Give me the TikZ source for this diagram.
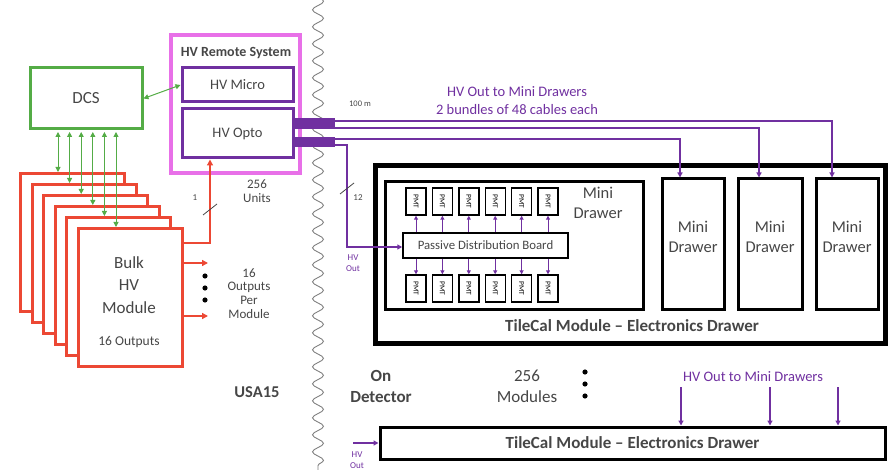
\documentclass[tikz,border=0pt]{standalone}
\usepackage{fontspec}
\setmainfont{Carlito}
\usetikzlibrary{arrows.meta,positioning,decorations.pathmorphing}

\definecolor{dcsgreen}{RGB}{84,172,70}
\definecolor{bulkred}{RGB}{236,72,52}
\definecolor{remotepink}{RGB}{232,112,232}
\definecolor{hvpurple}{RGB}{112,48,160}
\definecolor{txtgray}{RGB}{70,70,70}

\newcommand{\fs}[1]{\fontsize{#1}{1.22\dimexpr#1pt\relax}\selectfont}

\begin{document}
\begin{tikzpicture}[
        x=1pt, y=-1pt,
        every node/.style={inner sep=0pt, text=txtgray},
        dcsbox/.style={rectangle, draw=dcsgreen, line width=3pt, minimum width=112pt,
                       minimum height=61pt, font=\fs{17}},
        remote/.style={rectangle, draw=remotepink, line width=3.5pt, minimum width=129pt,
                       minimum height=138pt},
        hvbox/.style={rectangle, draw=hvpurple, line width=3pt, minimum width=111pt, font=\fs{14.5}},
        bulk/.style={rectangle, draw=bulkred, fill=white, line width=3pt, minimum width=104pt,
                     minimum height=138pt},
        drawerbox/.style={rectangle, draw=black, line width=3pt},
        minidrawer/.style={drawerbox, minimum width=62pt, minimum height=131pt,
                           label={[align=center, font=\fs{16.5}, text=txtgray, yshift=7.5pt]center:{Mini\\Drawer}}},
        pmt/.style={rectangle, draw=black, line width=1.4pt, minimum width=20pt, minimum height=27pt,
                    font=\fs{7.5}, text=black},
        lbl/.style={align=center, font=\fs{13}},
        big/.style={align=center, font=\fs{17}},
        bigbold/.style={align=center, font=\fs{17}\bfseries},
        small/.style={font=\fs{9}},
        hvtext/.style={text=hvpurple, align=center, font=\fontsize{14.5}{18}\selectfont},
        garrow/.style={<->, >={Triangle[length=5pt,width=5pt]}, draw=dcsgreen, line width=1pt},
        rarrow/.style={->, >={Triangle[length=6pt,width=6pt]}, draw=bulkred, line width=1.3pt},
        hvline/.style={->, >={Triangle[length=5pt,width=5pt]}, draw=hvpurple, line width=1.6pt},
        pmtarrow/.style={->, >={Triangle[length=4pt,width=4pt]}, draw=hvpurple, line width=1pt},
        bundle/.style={draw=hvpurple, line width=10pt},
        slash/.style={draw=txtgray, line width=0.8pt}
    ]
        \useasboundingbox (0,0) rectangle (889,470);

        \draw[gray, line width=0.9pt, decorate, decoration={snake, segment length=17pt, amplitude=5.5pt}]
            (318,-4) -- (318,474);

        \node[dcsbox] (dcs) at (86,98.5) {DCS};
        \node[remote] (remote) at (235.5,104) {};
        \node[font=\fs{14}\bfseries] (remotetitle) at (236,53) {HV Remote System};
        \node[hvbox, minimum height=34pt] (micro) at (237.5,85) {HV Micro};
        \node[hvbox, minimum height=49pt] (opto) at (237.5,133.5) {HV Opto};
        \draw[garrow] (dcs.east) -- (micro.west);

        \foreach \i in {0,...,5}
            \node[bulk, anchor=north west] (bulk\i) at ({19+11.6*\i},{172+11*\i}) {};
        \foreach \i in {0,...,5} {
            \coordinate (g\i) at ([xshift=39pt]bulk\i.north west);
            \draw[garrow, shorten <=1.5pt] (g\i |- dcs.south) -- (g\i);
        }
        \node[big] (bulktxt) at (129,285) {Bulk\\[1.5pt]HV\\[1.5pt]Module};
        \node[font=\fs{13.5}] (bulkouts) at (129,342) {16 Outputs};

        \coordinate (out1) at (208,263);
        \coordinate (out16) at (208,316);
        \draw[rarrow] (bulk5.east |- out1) -- (out1);
        \draw[rarrow] (bulk5.east |- out16) -- (out16);
        \foreach \y in {276,288,300}
            \fill (205,\y) circle (2.6pt);
        \node[lbl] (outlbl) at (249,293.5) {16\\[-2pt]Outputs\\[-2pt]Per\\[-2pt]Module};

        \coordinate (bend) at (210,243);
        \draw[rarrow] (bulk5.east |- bend) -- (bend) -- (bend |- opto.south);
        \draw[slash] (203,215) -- (217,204);
        \node[small] (one) at (195,198) {1};
        \node[lbl] (units) at (257,191) {256\\[-2pt]Units};
        \node[bigbold, font=\fs{16.5}\bfseries] (usa) at (257,392) {USA15};

        \node[drawerbox, line width=5pt, minimum width=510pt, minimum height=178pt] (tilecal) at (630,255) {};
        \node[drawerbox, minimum width=258pt, minimum height=128pt] (md1) at (514,246) {};
        \node[align=center, font=\fs{16.5}] (md1lbl) at (598,203) {Mini\\Drawer};
        \node[drawerbox, line width=1.5pt, minimum width=165pt, minimum height=25pt, font=\fs{12.8}]
            (pdb) at (485.5,245.5) {Passive Distribution Board};
        \foreach \k in {1,...,6} {
            \node[pmt] (pmtT\k) at ({416+26.4*(\k-1)},201.5) {\rotatebox{-90}{PMT}};
            \node[pmt] (pmtB\k) at ({416+26.4*(\k-1)},288.5) {\rotatebox{-90}{PMT}};
            \draw[pmtarrow] (pdb.north -| pmtT\k.south) -- (pmtT\k.south);
            \draw[pmtarrow] (pdb.south -| pmtB\k.north) -- (pmtB\k.north);
        }
        \node[minidrawer] (md2) at (693,244.5) {};
        \node[minidrawer, minimum width=64pt] (md3) at (770,244.5) {};
        \node[minidrawer] (md4) at (847,244.5) {};
        \node[bigbold] (tclbl) at (632,326) {TileCal Module -- Electronics Drawer};

        \draw[hvline] (opto.east |- 0,121) -| ([xshift=-15pt]md4.north);
        \draw[hvline] (opto.east |- 0,128) -| ([xshift=-11pt]md3.north);
        \draw[hvline] (opto.east |- 0,139) -| ([xshift=-13pt]md2.north);
        \coordinate (drop) at (347,145);
        \draw[hvline] (opto.east |- drop) -- (drop) -- (drop |- 0,247) -- (pdb.west |- 0,247);
        \coordinate (bundleA) at (335,123);
        \coordinate (bundleB) at (335,142);
        \draw[bundle] (opto.east |- bundleA) -- (bundleA);
        \draw[bundle] (opto.east |- bundleB) -- (bundleB);
        \draw[slash] (340,194) -- (354,183);
        \node[small] (twelve) at (358,198) {12};
        \node[small, text=hvpurple, align=center] (hvout1) at (353,263) {HV\\Out};
        \node[small, font=\fs{8.5}] (dist) at (360,104) {100 m};
        \node[hvtext] (bundlelbl) at (517,101) {HV Out to Mini Drawers\\2 bundles of 48 cables each};

        \node[bigbold] (onlbl) at (381,386.5) {On\\Detector};
        \node[big] (modlbl) at (527,386.5) {256\\Modules};
        \foreach \y in {372,384,396}
            \fill (585,\y) circle (2.6pt);
        \node[hvtext] (hvlbl2) at (753,377) {HV Out to Mini Drawers};
        \node[drawerbox, minimum width=505pt, minimum height=32pt, font=\fs{17}\bfseries]
            (tcbox) at (632.5,443) {TileCal Module -- Electronics Drawer};
        \foreach \x in {681,770,838} {
            \coordinate (d\x) at (\x,387);
            \draw[hvline] (d\x) -- (d\x |- tcbox.north);
        }
        \coordinate (hvin) at (353,443);
        \draw[hvline] (hvin) -- (tcbox.west);
        \node[small, text=hvpurple, align=center] (hvout2) at (357,460) {HV\\Out};
    \end{tikzpicture}
\end{document}
